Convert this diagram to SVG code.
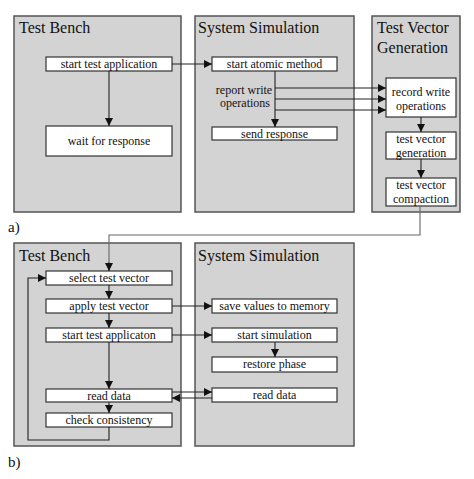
<svg xmlns="http://www.w3.org/2000/svg" width="474" height="479" viewBox="0 0 474 479">
<style>
.panel{fill:#d3d3d3;stroke:#555;stroke-width:1.5}
.box{fill:#fff;stroke:#333;stroke-width:1.2}
text{font-family:"Liberation Serif","Times New Roman",serif;fill:#111}
.t{font-size:12px;text-anchor:middle}
.h{font-size:16px}
.lbl{font-size:15px}
.c{fill:none;stroke:#222;stroke-width:1.1}
.c2{fill:none;stroke:#666;stroke-width:1.1}
</style>
<defs>
<marker id="ah" viewBox="0 0 10 10" refX="10" refY="5" markerWidth="8" markerHeight="8" markerUnits="userSpaceOnUse" orient="auto">
<path d="M0,0 L10,5 L0,10 z" fill="#111"/>
</marker>
</defs>
<rect width="474" height="479" fill="#fff"/>

<g id="panel-a-testbench">
<rect class="panel" x="14" y="16" width="167" height="196"/>
<text class="h" x="19" y="33">Test Bench</text>
</g>
<g id="panel-a-syssim">
<rect class="panel" x="195" y="16" width="159" height="196"/>
<text class="h" x="198" y="33">System Simulation</text>
</g>
<g id="panel-a-tvg">
<rect class="panel" x="372" y="16" width="88" height="196"/>
<text class="h" x="377" y="33">Test Vector</text>
<text class="h" x="377" y="53">Generation</text>
</g>

<g id="a-start-test-app">
<rect class="box" x="46" y="57" width="126" height="14"/>
<text class="t" x="109" y="68">start test application</text>
</g>
<g id="a-wait">
<rect class="box" x="46" y="126" width="126" height="30"/>
<text class="t" x="109" y="145">wait for response</text>
</g>
<g id="a-start-atomic">
<rect class="box" x="212" y="57" width="125" height="14"/>
<text class="t" x="274.5" y="68">start atomic method</text>
</g>
<g id="a-report-label">
<text class="t" x="244" y="94">report write</text>
<text class="t" x="245" y="107">operations</text>
</g>
<g id="a-send-response">
<rect class="box" x="212" y="127" width="125" height="13"/>
<text class="t" x="274.5" y="137.5">send response</text>
</g>
<g id="a-record">
<rect class="box" x="386" y="78" width="70" height="39"/>
<text class="t" x="421" y="96">record write</text>
<text class="t" x="421" y="110">operations</text>
</g>
<g id="a-tvgen">
<rect class="box" x="386" y="132" width="70" height="27"/>
<text class="t" x="421" y="143">test vector</text>
<text class="t" x="421" y="156.5">generation</text>
</g>
<g id="a-tvcomp">
<rect class="box" x="386" y="178" width="70" height="28"/>
<text class="t" x="421" y="188.5">test vector</text>
<text class="t" x="421" y="202.5">compaction</text>
</g>

<text id="label-a" class="lbl" x="8" y="232">a)</text>

<g id="panel-b-testbench">
<rect class="panel" x="14" y="243" width="167" height="203"/>
<text class="h" x="19" y="261">Test Bench</text>
</g>
<g id="panel-b-syssim">
<rect class="panel" x="195" y="243" width="159" height="203"/>
<text class="h" x="198" y="261">System Simulation</text>
</g>

<g id="b-select">
<rect class="box" x="46" y="271" width="126" height="14"/>
<text class="t" x="109" y="282">select test vector</text>
</g>
<g id="b-apply">
<rect class="box" x="46" y="299" width="126" height="14"/>
<text class="t" x="109" y="310">apply test vector</text>
</g>
<g id="b-start-app">
<rect class="box" x="46" y="328" width="126" height="14"/>
<text class="t" x="109" y="339">start test applicaton</text>
</g>
<g id="b-read-tb">
<rect class="box" x="46" y="389" width="126" height="13"/>
<text class="t" x="109" y="399.5">read data</text>
</g>
<g id="b-check">
<rect class="box" x="46" y="413" width="126" height="14"/>
<text class="t" x="109" y="424">check consistency</text>
</g>
<g id="b-save">
<rect class="box" x="212" y="299" width="125" height="14"/>
<text class="t" x="274.5" y="310">save values to memory</text>
</g>
<g id="b-start-sim">
<rect class="box" x="212" y="328" width="125" height="14"/>
<text class="t" x="274.5" y="339">start simulation</text>
</g>
<g id="b-restore">
<rect class="box" x="212" y="357" width="125" height="15"/>
<text class="t" x="274.5" y="368">restore phase</text>
</g>
<g id="b-read-ss">
<rect class="box" x="212" y="388" width="125" height="14"/>
<text class="t" x="274.5" y="399">read data</text>
</g>

<text id="label-b" class="lbl" x="8" y="467">b)</text>

<g id="connectors">
<line class="c" x1="172" y1="64" x2="212" y2="64" marker-end="url(#ah)"/>
<line class="c" x1="109" y1="71" x2="109" y2="126" marker-end="url(#ah)"/>
<line class="c" x1="275" y1="71" x2="275" y2="127" marker-end="url(#ah)"/>
<line class="c" x1="275" y1="88" x2="386" y2="88" marker-end="url(#ah)"/>
<line class="c" x1="275" y1="99" x2="386" y2="99" marker-end="url(#ah)"/>
<line class="c" x1="275" y1="110" x2="386" y2="110" marker-end="url(#ah)"/>
<line class="c" x1="421" y1="117" x2="421" y2="132" marker-end="url(#ah)"/>
<line class="c" x1="421" y1="159" x2="421" y2="178" marker-end="url(#ah)"/>
<path class="c2" d="M420,206 V235 H109 V262"/>
<path class="c" d="M109,262 V271" marker-end="url(#ah)"/>
<line class="c" x1="109" y1="285" x2="109" y2="299" marker-end="url(#ah)"/>
<line class="c" x1="109" y1="313" x2="109" y2="328" marker-end="url(#ah)"/>
<line class="c" x1="109" y1="342" x2="109" y2="389" marker-end="url(#ah)"/>
<line class="c" x1="109" y1="402" x2="109" y2="413" marker-end="url(#ah)"/>
<path class="c" d="M109,427 V440 H28 V278 H46" marker-end="url(#ah)"/>
<line class="c" x1="172" y1="306" x2="212" y2="306" marker-end="url(#ah)"/>
<line class="c" x1="172" y1="335" x2="212" y2="335" marker-end="url(#ah)"/>
<line class="c" x1="275" y1="342" x2="275" y2="357" marker-end="url(#ah)"/>
<line class="c" x1="172" y1="392" x2="212" y2="392" marker-end="url(#ah)"/>
<line class="c" x1="212" y1="398" x2="172" y2="398" marker-end="url(#ah)"/>
</g>
</svg>
